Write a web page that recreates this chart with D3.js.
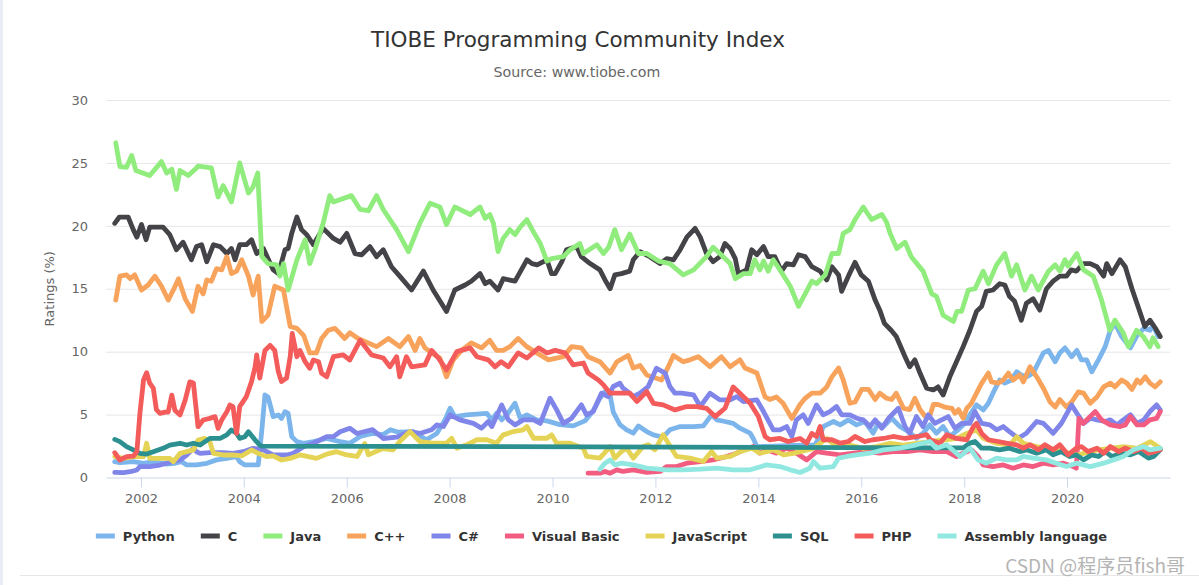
<!DOCTYPE html>
<html>
<head>
<meta charset="utf-8">
<script src="https://cdn.jsdelivr.net/npm/d3@7"></script>
<style>
  html, body { margin: 0; padding: 0; background: #fff; }
  svg { display: block; }
</style>
</head>
<body>
<svg id="chart" width="1199" height="585"></svg>
<script>
// ---------------- DATA (decimal year, rating %) ----------------
const seriesNames = ["Python", "C", "Java", "C++", "C#", "Visual Basic", "JavaScript", "SQL", "PHP", "Assembly language"];
const seriesColors = ["#7cb5ec", "#434348", "#90ed7d", "#f7a35c", "#8085e9", "#f15c80", "#e4d354", "#2b908f", "#f45b5b", "#91e8e1"];
const yTicks = [0, 5, 10, 15, 20, 25, 30];
const xTickYears = [2002, 2004, 2006, 2008, 2010, 2012, 2014, 2016, 2018, 2020];

const python = [[2001.49,1.26],[2001.59,1.18],[2001.85,1.26],[2002.05,1.13],[2002.24,1.26],[2002.5,1.07],[2002.66,1.13],[2002.79,1.26],[2002.89,1.0],[2003.08,1.0],[2003.28,1.13],[2003.47,1.4],[2003.67,1.52],[2003.86,1.66],[2003.92,1.26],[2004.02,1.0],[2004.18,1.0],[2004.28,1.0],[2004.35,3.78],[2004.41,6.56],[2004.47,6.4],[2004.57,4.84],[2004.67,4.97],[2004.73,4.7],[2004.8,5.23],[2004.86,5.1],[2004.93,3.25],[2005.03,2.85],[2005.16,2.72],[2005.35,2.85],[2005.61,3.1],[2005.87,2.85],[2006.06,2.72],[2006.26,3.26],[2006.5,3.5],[2006.7,3.4],[2006.85,3.8],[2007.0,3.6],[2007.29,3.65],[2007.55,3.0],[2007.75,3.5],[2007.91,4.58],[2008.01,5.5],[2008.1,4.84],[2008.33,4.98],[2008.72,5.1],[2008.82,4.58],[2008.91,5.1],[2009.01,4.58],[2009.11,4.98],[2009.27,5.9],[2009.37,4.71],[2009.5,4.98],[2009.69,4.58],[2009.89,4.5],[2010.14,4.2],[2010.4,4.1],[2010.63,4.5],[2010.79,5.3],[2010.92,6.3],[2011.02,6.83],[2011.12,6.5],[2011.18,5.2],[2011.31,4.2],[2011.44,3.79],[2011.57,3.52],[2011.67,4.1],[2011.83,3.65],[2011.96,3.39],[2012.15,3.2],[2012.28,3.79],[2012.48,4.05],[2012.74,4.05],[2012.93,4.1],[2013.09,4.98],[2013.19,4.58],[2013.35,4.45],[2013.51,4.3],[2013.64,3.92],[2013.84,3.52],[2013.9,3.1],[2013.97,2.46],[2014.3,2.5],[2014.7,2.55],[2015.1,2.6],[2015.2,3.3],[2015.26,4.05],[2015.46,4.45],[2015.59,4.18],[2015.75,4.58],[2015.91,4.18],[2016.07,4.45],[2016.23,3.52],[2016.33,4.3],[2016.43,4.05],[2016.59,4.71],[2016.75,4.05],[2016.91,3.65],[2017.07,3.12],[2017.2,3.52],[2017.33,4.18],[2017.46,3.52],[2017.59,4.05],[2017.72,3.26],[2017.88,3.79],[2018.01,4.3],[2018.11,4.98],[2018.24,5.77],[2018.37,5.37],[2018.47,5.9],[2018.56,6.7],[2018.69,7.75],[2018.79,7.5],[2018.92,7.75],[2019.02,8.4],[2019.11,8.15],[2019.21,8.0],[2019.34,8.3],[2019.44,9.1],[2019.54,9.9],[2019.64,10.1],[2019.77,9.2],[2019.86,9.9],[2019.96,10.3],[2020.09,9.6],[2020.19,10.1],[2020.28,9.35],[2020.38,9.35],[2020.48,8.4],[2020.61,9.35],[2020.74,10.4],[2020.84,11.7],[2020.93,12.25],[2021.06,11.2],[2021.23,10.3],[2021.36,11.3],[2021.49,11.85],[2021.61,11.7],[2021.67,12.1],[2021.77,11.2]];

const cLang = [[2001.49,20.2],[2001.58,20.7],[2001.75,20.7],[2001.85,19.7],[2001.92,19.1],[2002.01,20.1],[2002.1,18.9],[2002.17,19.9],[2002.43,19.9],[2002.56,19.3],[2002.69,18.1],[2002.82,18.7],[2002.98,17.3],[2003.08,18.35],[2003.18,18.5],[2003.28,17.15],[2003.41,18.5],[2003.54,18.35],[2003.67,17.8],[2003.76,18.2],[2003.83,17.3],[2003.92,18.5],[2004.05,18.5],[2004.15,18.9],[2004.25,17.8],[2004.38,18.2],[2004.57,16.5],[2004.67,16.2],[2004.8,18.1],[2004.86,18.2],[2004.93,19.4],[2005.03,20.7],[2005.12,19.7],[2005.22,19.3],[2005.35,18.5],[2005.54,19.8],[2005.74,19.0],[2005.87,18.7],[2006.0,19.4],[2006.16,17.8],[2006.29,17.7],[2006.45,18.35],[2006.58,17.55],[2006.71,18.1],[2006.87,16.75],[2007.03,16.0],[2007.26,14.9],[2007.49,16.4],[2007.68,14.9],[2007.94,13.2],[2008.1,14.9],[2008.3,15.3],[2008.42,15.6],[2008.59,16.2],[2008.69,15.4],[2008.78,15.6],[2008.94,14.9],[2009.04,15.8],[2009.27,15.6],[2009.5,17.3],[2009.6,17.0],[2009.7,16.9],[2009.89,17.3],[2009.98,16.2],[2010.05,16.2],[2010.18,17.15],[2010.27,18.1],[2010.47,18.35],[2010.56,17.55],[2010.73,17.0],[2010.92,16.5],[2011.02,15.7],[2011.12,15.0],[2011.21,16.1],[2011.34,16.2],[2011.5,16.4],[2011.57,17.3],[2011.7,17.95],[2011.89,17.55],[2012.09,17.0],[2012.22,17.4],[2012.35,17.3],[2012.48,18.1],[2012.61,19.1],[2012.77,19.8],[2012.87,19.1],[2012.99,17.8],[2013.12,17.15],[2013.25,17.55],[2013.35,18.6],[2013.45,18.2],[2013.55,17.4],[2013.61,16.2],[2013.77,16.5],[2013.87,18.1],[2013.97,17.7],[2014.1,18.35],[2014.19,17.55],[2014.32,17.55],[2014.45,16.4],[2014.55,17.0],[2014.68,16.9],[2014.78,17.7],[2014.91,17.55],[2015.04,16.75],[2015.2,16.4],[2015.33,15.7],[2015.43,16.75],[2015.56,16.1],[2015.62,14.8],[2015.75,16.0],[2015.88,17.1],[2016.0,16.1],[2016.14,15.6],[2016.27,14.1],[2016.36,13.3],[2016.45,12.25],[2016.58,11.7],[2016.68,11.2],[2016.85,9.6],[2016.94,8.8],[2017.04,9.35],[2017.14,8.3],[2017.27,7.1],[2017.4,6.96],[2017.49,7.2],[2017.59,6.55],[2017.72,8.0],[2017.85,9.2],[2017.98,10.4],[2018.11,11.7],[2018.24,13.2],[2018.34,13.6],[2018.43,14.8],[2018.56,14.9],[2018.69,15.4],[2018.79,15.3],[2018.88,14.4],[2018.98,14.0],[2019.11,12.5],[2019.21,13.85],[2019.34,14.2],[2019.47,13.3],[2019.6,15.0],[2019.73,15.6],[2019.86,16.0],[2019.99,16.0],[2020.08,16.5],[2020.18,16.4],[2020.32,17.0],[2020.45,17.0],[2020.58,16.75],[2020.71,16.0],[2020.77,17.0],[2020.87,16.2],[2021.03,17.3],[2021.13,16.75],[2021.26,15.0],[2021.39,13.45],[2021.51,12.0],[2021.61,12.5],[2021.71,11.9],[2021.81,11.2]];

const java = [[2001.51,26.6],[2001.59,24.7],[2001.72,24.65],[2001.82,25.6],[2001.9,24.4],[2002.17,24.0],[2002.4,25.1],[2002.5,24.2],[2002.6,24.5],[2002.69,22.9],[2002.76,24.4],[2002.92,24.0],[2003.08,24.6],[2003.11,24.75],[2003.37,24.6],[2003.5,22.3],[2003.6,23.2],[2003.76,21.9],[2003.92,25.0],[2004.09,22.6],[2004.18,23.1],[2004.27,24.2],[2004.35,17.55],[2004.47,17.0],[2004.64,16.9],[2004.7,16.0],[2004.77,17.0],[2004.86,14.9],[2005.03,17.3],[2005.19,18.9],[2005.28,17.0],[2005.38,18.1],[2005.54,20.2],[2005.67,22.4],[2005.74,21.9],[2006.09,22.4],[2006.26,21.3],[2006.42,21.2],[2006.58,22.4],[2006.71,21.3],[2006.97,19.7],[2007.2,17.95],[2007.42,20.2],[2007.62,21.8],[2007.81,21.5],[2007.94,20.1],[2008.1,21.5],[2008.4,20.9],[2008.59,21.5],[2008.69,20.6],[2008.78,20.9],[2008.85,20.2],[2008.94,17.95],[2009.04,19.0],[2009.17,19.7],[2009.27,19.3],[2009.37,19.9],[2009.5,20.5],[2009.63,19.5],[2009.76,18.6],[2009.89,17.2],[2009.98,17.4],[2010.21,17.55],[2010.34,18.1],[2010.53,18.6],[2010.6,17.8],[2010.86,18.5],[2010.99,17.8],[2011.09,18.3],[2011.21,19.7],[2011.34,18.1],[2011.5,19.35],[2011.67,17.8],[2011.83,17.8],[2012.06,17.2],[2012.28,17.0],[2012.54,16.1],[2012.74,16.5],[2012.99,17.55],[2013.12,18.3],[2013.25,17.8],[2013.45,17.0],[2013.55,15.8],[2013.71,16.2],[2013.84,16.2],[2013.93,17.3],[2014.03,16.5],[2014.1,17.2],[2014.19,16.4],[2014.29,17.3],[2014.42,16.5],[2014.62,15.2],[2014.78,13.6],[2014.91,14.6],[2015.04,15.6],[2015.13,15.4],[2015.3,16.1],[2015.43,17.8],[2015.56,17.8],[2015.65,19.4],[2015.78,19.7],[2015.88,20.5],[2016.04,21.5],[2016.2,20.5],[2016.4,20.9],[2016.49,20.3],[2016.56,19.4],[2016.69,18.2],[2016.85,18.7],[2016.97,17.55],[2017.2,16.4],[2017.37,14.6],[2017.46,14.4],[2017.59,12.9],[2017.79,12.4],[2017.86,13.2],[2017.95,13.2],[2018.08,14.9],[2018.21,15.0],[2018.37,16.4],[2018.47,15.4],[2018.63,16.9],[2018.79,17.8],[2018.92,16.0],[2019.02,16.9],[2019.18,14.9],[2019.31,16.0],[2019.44,14.9],[2019.64,16.4],[2019.77,16.9],[2019.86,16.4],[2019.96,17.3],[2020.02,16.8],[2020.19,17.8],[2020.32,16.5],[2020.51,16.0],[2020.67,14.1],[2020.83,11.7],[2020.93,12.5],[2021.09,11.5],[2021.19,10.4],[2021.35,11.7],[2021.48,11.2],[2021.61,10.4],[2021.67,11.1],[2021.77,10.4]];

const cpp = [[2001.51,14.1],[2001.59,16.0],[2001.72,16.1],[2001.79,15.8],[2001.88,16.1],[2002.01,14.9],[2002.14,15.3],[2002.27,16.0],[2002.4,15.2],[2002.53,14.1],[2002.63,14.9],[2002.73,15.8],[2002.86,14.2],[2003.0,13.2],[2003.11,15.2],[2003.21,14.6],[2003.28,15.7],[2003.37,15.6],[2003.47,16.6],[2003.57,16.5],[2003.67,17.55],[2003.76,16.2],[2003.86,16.4],[2003.96,17.3],[2004.09,16.0],[2004.18,14.5],[2004.28,16.0],[2004.35,12.4],[2004.47,12.9],[2004.6,15.2],[2004.77,14.9],[2004.9,12.0],[2005.03,11.85],[2005.16,11.3],[2005.28,9.9],[2005.41,9.9],[2005.51,11.05],[2005.64,11.7],[2005.77,11.85],[2005.96,11.05],[2006.06,11.5],[2006.22,11.05],[2006.58,10.4],[2006.81,11.05],[2007.03,10.4],[2007.2,11.2],[2007.33,10.1],[2007.42,11.05],[2007.52,10.3],[2007.65,9.9],[2007.81,9.5],[2007.94,8.0],[2008.07,9.35],[2008.23,10.1],[2008.42,10.7],[2008.62,10.3],[2008.78,10.9],[2008.91,10.1],[2009.04,10.1],[2009.17,10.4],[2009.33,11.05],[2009.5,10.4],[2009.69,9.9],[2009.92,9.35],[2010.21,9.6],[2010.37,10.4],[2010.56,10.3],[2010.69,9.6],[2010.92,9.2],[2011.12,8.3],[2011.25,9.2],[2011.47,9.7],[2011.57,8.7],[2011.7,8.9],[2011.83,8.15],[2012.12,7.75],[2012.22,8.55],[2012.35,9.7],[2012.54,9.2],[2012.67,9.35],[2012.83,9.6],[2013.06,8.8],[2013.28,9.6],[2013.45,8.8],[2013.64,9.35],[2013.74,8.7],[2013.97,8.3],[2014.13,6.4],[2014.22,6.2],[2014.35,6.4],[2014.48,5.9],[2014.65,4.7],[2014.81,5.8],[2014.91,6.3],[2015.04,6.7],[2015.2,6.7],[2015.33,7.2],[2015.43,8.0],[2015.56,8.7],[2015.65,7.75],[2015.78,5.9],[2015.88,6.0],[2016.01,7.0],[2016.14,7.0],[2016.27,6.2],[2016.36,6.7],[2016.49,6.3],[2016.59,6.2],[2016.68,6.7],[2016.82,5.5],[2016.94,5.4],[2017.04,6.3],[2017.14,5.4],[2017.27,4.7],[2017.34,5.0],[2017.4,5.8],[2017.49,5.8],[2017.62,5.6],[2017.76,5.5],[2017.82,5.1],[2017.89,5.4],[2017.98,4.7],[2018.05,5.5],[2018.14,5.9],[2018.24,6.7],[2018.34,7.5],[2018.47,8.3],[2018.53,7.6],[2018.66,7.5],[2018.76,7.75],[2018.86,8.3],[2018.95,7.75],[2019.08,8.15],[2019.15,7.6],[2019.28,8.8],[2019.41,8.0],[2019.54,7.1],[2019.67,6.0],[2019.77,5.6],[2019.86,6.2],[2019.99,5.6],[2020.09,6.0],[2020.22,6.8],[2020.32,6.7],[2020.45,5.9],[2020.58,6.4],[2020.71,7.2],[2020.84,7.5],[2020.93,7.2],[2021.06,7.75],[2021.16,7.5],[2021.26,7.0],[2021.36,7.75],[2021.42,7.5],[2021.52,8.0],[2021.61,7.5],[2021.71,7.2],[2021.81,7.6]];

const csharp = [[2001.49,0.41],[2001.66,0.38],[2001.79,0.46],[2001.92,0.6],[2001.98,0.86],[2002.17,0.86],[2002.37,0.99],[2002.5,1.13],[2002.76,1.39],[2002.89,1.79],[2003.02,2.32],[2003.08,2.05],[2003.15,1.92],[2003.34,1.97],[2003.6,1.97],[2003.79,1.92],[2003.99,2.05],[2004.18,2.32],[2004.38,2.19],[2004.57,1.79],[2004.83,1.79],[2004.96,1.92],[2005.16,2.45],[2005.35,2.72],[2005.48,2.98],[2005.61,3.25],[2005.74,3.25],[2005.87,3.64],[2006.06,3.91],[2006.2,3.5],[2006.5,3.8],[2006.71,3.1],[2006.97,3.2],[2007.23,3.65],[2007.42,3.5],[2007.65,3.79],[2007.75,4.18],[2007.88,4.05],[2008.01,4.98],[2008.2,4.58],[2008.46,4.3],[2008.62,3.92],[2008.75,4.45],[2008.82,4.05],[2009.01,5.77],[2009.14,4.58],[2009.27,4.18],[2009.43,4.58],[2009.63,4.58],[2009.76,4.3],[2009.95,6.3],[2010.08,5.37],[2010.21,4.3],[2010.37,4.71],[2010.56,5.77],[2010.66,4.98],[2010.79,5.24],[2010.95,6.7],[2011.08,6.43],[2011.18,7.23],[2011.31,7.49],[2011.37,7.1],[2011.5,6.7],[2011.57,6.43],[2011.7,6.7],[2011.86,7.23],[2012.02,8.68],[2012.19,8.29],[2012.28,7.23],[2012.38,6.7],[2012.51,6.7],[2012.74,6.57],[2012.87,5.64],[2013.06,6.7],[2013.25,6.17],[2013.45,6.17],[2013.58,6.43],[2013.71,6.04],[2013.97,6.17],[2014.1,5.24],[2014.29,3.79],[2014.42,3.79],[2014.55,4.05],[2014.65,3.26],[2014.74,4.58],[2014.87,4.98],[2014.97,4.3],[2015.13,5.77],[2015.26,4.98],[2015.39,5.24],[2015.52,5.64],[2015.62,4.98],[2015.78,4.98],[2015.91,4.71],[2016.04,4.58],[2016.17,4.05],[2016.27,4.58],[2016.4,3.92],[2016.53,4.71],[2016.72,5.5],[2016.85,4.05],[2016.94,3.52],[2017.07,4.84],[2017.2,4.05],[2017.3,4.98],[2017.43,4.3],[2017.56,4.58],[2017.69,4.84],[2017.82,3.92],[2017.95,4.3],[2018.11,4.3],[2018.21,5.24],[2018.34,4.3],[2018.5,4.18],[2018.63,3.79],[2018.76,4.05],[2018.88,3.65],[2019.05,3.12],[2019.21,3.52],[2019.41,4.45],[2019.54,4.3],[2019.73,3.52],[2019.89,4.3],[2020.09,5.77],[2020.19,5.11],[2020.32,4.3],[2020.45,4.71],[2020.58,4.58],[2020.74,4.45],[2020.84,4.58],[2020.97,4.18],[2021.09,4.58],[2021.23,4.98],[2021.36,4.3],[2021.49,4.58],[2021.61,5.24],[2021.74,5.77],[2021.81,5.37]];

const visualBasic = [[2010.69,0.34],[2010.92,0.34],[2011.02,0.48],[2011.12,0.34],[2011.25,0.61],[2011.37,0.48],[2011.57,0.61],[2011.83,0.4],[2012.09,0.48],[2012.22,0.87],[2012.41,0.87],[2012.61,1.14],[2012.87,1.27],[2013.12,1.4],[2013.38,1.67],[2013.58,1.93],[2013.71,2.2],[2013.9,2.46],[2014.03,1.93],[2014.16,2.2],[2014.35,1.93],[2014.55,2.33],[2014.74,1.93],[2014.94,1.4],[2015.13,2.06],[2015.33,1.93],[2015.59,1.8],[2015.85,1.93],[2016.1,2.06],[2016.36,1.93],[2016.62,2.06],[2016.88,2.06],[2017.14,2.2],[2017.4,2.06],[2017.66,2.06],[2017.85,1.67],[2017.98,1.93],[2018.14,2.2],[2018.27,1.67],[2018.37,1.0],[2018.56,0.87],[2018.76,1.0],[2018.95,0.74],[2019.15,1.0],[2019.34,0.87],[2019.54,1.14],[2019.73,1.0],[2019.93,1.14],[2020.12,0.87],[2020.18,0.74],[2020.23,4.7],[2020.31,4.3],[2020.45,4.84],[2020.55,5.24],[2020.67,4.58],[2020.84,4.18],[2021.03,4.05],[2021.13,4.18],[2021.23,4.84],[2021.36,4.18],[2021.49,4.18],[2021.61,4.58],[2021.74,4.7],[2021.81,5.24]];

const javascript = [[2001.49,1.66],[2001.66,1.52],[2001.85,1.66],[2002.05,1.66],[2002.11,2.72],[2002.17,1.52],[2002.37,1.52],[2002.56,1.52],[2002.63,1.26],[2002.76,1.92],[2002.89,2.05],[2003.02,2.19],[2003.11,2.98],[2003.24,3.11],[2003.34,2.85],[2003.41,1.92],[2003.6,1.79],[2003.79,1.79],[2003.96,1.72],[2004.15,2.19],[2004.28,1.92],[2004.44,1.66],[2004.57,1.72],[2004.73,1.39],[2004.9,1.52],[2005.09,1.79],[2005.25,1.66],[2005.41,1.52],[2005.61,1.86],[2005.8,2.05],[2006.0,1.79],[2006.2,1.67],[2006.35,2.7],[2006.42,1.8],[2006.7,2.3],[2006.9,2.2],[2007.03,2.86],[2007.23,3.65],[2007.42,2.86],[2007.68,2.73],[2007.94,2.73],[2008.04,3.12],[2008.14,2.33],[2008.33,2.6],[2008.53,3.0],[2008.72,3.0],[2008.91,2.73],[2009.04,3.39],[2009.24,3.65],[2009.43,3.79],[2009.5,4.05],[2009.63,3.12],[2009.89,3.12],[2009.98,3.39],[2010.08,2.73],[2010.34,2.73],[2010.6,2.33],[2010.66,1.67],[2010.92,1.54],[2011.12,2.46],[2011.21,1.54],[2011.34,2.06],[2011.44,2.33],[2011.57,1.54],[2011.76,2.46],[2011.86,2.6],[2011.99,2.2],[2012.15,3.39],[2012.25,2.73],[2012.41,1.67],[2012.67,1.54],[2012.93,1.27],[2013.09,2.06],[2013.19,1.54],[2013.45,1.67],[2013.64,2.06],[2013.87,2.33],[2014.03,1.93],[2014.29,2.2],[2014.49,1.79],[2014.68,1.92],[2015.07,2.32],[2015.33,3.11],[2015.52,2.45],[2015.78,2.58],[2016.04,2.32],[2016.3,2.45],[2016.56,2.72],[2016.82,2.58],[2017.07,2.72],[2017.33,2.85],[2017.59,2.98],[2017.85,3.11],[2018.05,3.5],[2018.24,3.77],[2018.37,3.11],[2018.63,2.72],[2018.89,2.58],[2019.02,3.24],[2019.15,2.72],[2019.41,2.45],[2019.67,2.32],[2019.93,2.05],[2020.19,1.79],[2020.58,2.18],[2020.84,2.32],[2021.1,2.45],[2021.36,2.32],[2021.62,2.85],[2021.81,2.32]];

const sql = [[2001.49,3.03],[2001.59,2.85],[2001.72,2.45],[2001.85,2.19],[2001.98,1.92],[2002.11,1.86],[2002.24,2.05],[2002.43,2.32],[2002.56,2.58],[2002.76,2.72],[2002.89,2.58],[2003.02,2.72],[2003.15,2.58],[2003.34,3.11],[2003.54,3.11],[2003.67,3.38],[2003.76,3.78],[2003.86,3.51],[2003.92,3.11],[2004.02,3.24],[2004.09,3.64],[2004.22,2.98],[2004.31,2.58],[2004.35,2.5],[2017.98,2.35],[2018.11,2.73],[2018.21,2.86],[2018.34,2.33],[2018.5,2.33],[2018.69,2.2],[2018.88,2.33],[2019.08,2.06],[2019.21,2.2],[2019.41,1.93],[2019.6,2.2],[2019.73,1.8],[2019.89,2.06],[2020.05,1.67],[2020.18,1.8],[2020.32,1.4],[2020.48,1.8],[2020.61,1.67],[2020.74,2.06],[2020.87,1.67],[2021.06,1.93],[2021.23,1.8],[2021.39,2.06],[2021.58,1.54],[2021.68,1.67],[2021.81,2.2]];

const php = [[2001.49,1.97],[2001.59,1.39],[2001.72,1.66],[2001.85,1.7],[2001.92,2.05],[2001.98,5.1],[2002.05,7.75],[2002.11,8.33],[2002.17,7.5],[2002.24,7.1],[2002.3,5.4],[2002.37,5.1],[2002.47,5.2],[2002.53,5.2],[2002.6,6.55],[2002.66,5.35],[2002.76,4.97],[2002.86,6.15],[2002.95,7.6],[2003.02,7.5],[2003.11,4.04],[2003.21,4.57],[2003.34,4.7],[2003.44,4.84],[2003.5,3.9],[2003.57,4.57],[2003.67,5.23],[2003.73,5.76],[2003.79,5.63],[2003.86,3.5],[2003.92,5.63],[2004.05,6.43],[2004.15,7.62],[2004.22,8.8],[2004.25,9.74],[2004.31,7.9],[2004.41,10.1],[2004.51,10.5],[2004.6,10.1],[2004.67,8.4],[2004.73,7.62],[2004.83,7.9],[2004.9,9.6],[2004.94,11.45],[2005.03,9.6],[2005.09,10.1],[2005.19,9.2],[2005.28,8.68],[2005.35,9.34],[2005.45,9.2],[2005.51,8.28],[2005.61,8.0],[2005.74,9.6],[2005.93,9.74],[2006.06,9.34],[2006.26,10.9],[2006.48,9.75],[2006.71,9.5],[2006.84,8.8],[2006.97,9.6],[2007.03,8.0],[2007.16,9.6],[2007.26,8.8],[2007.52,8.95],[2007.65,10.1],[2007.78,9.5],[2007.94,8.55],[2008.14,10.0],[2008.4,10.3],[2008.53,9.6],[2008.75,9.35],[2008.88,8.8],[2009.0,9.2],[2009.14,8.8],[2009.33,9.9],[2009.5,9.5],[2009.73,10.3],[2009.89,9.9],[2010.05,10.1],[2010.24,9.9],[2010.4,8.95],[2010.6,9.1],[2010.69,8.3],[2010.89,7.75],[2010.99,7.36],[2011.12,6.7],[2011.31,6.7],[2011.5,6.7],[2011.64,6.04],[2011.83,6.83],[2011.96,5.9],[2012.15,5.77],[2012.38,5.37],[2012.61,5.64],[2012.8,5.64],[2012.99,5.5],[2013.16,4.84],[2013.35,5.5],[2013.51,7.2],[2013.64,6.7],[2013.84,5.9],[2014.0,4.84],[2014.13,3.26],[2014.22,3.0],[2014.42,3.1],[2014.58,2.86],[2014.81,3.1],[2014.94,2.73],[2015.04,3.5],[2015.13,3.26],[2015.2,4.05],[2015.26,3.0],[2015.43,3.0],[2015.59,2.73],[2015.75,2.86],[2015.88,3.26],[2016.07,2.86],[2016.23,3.0],[2016.43,3.1],[2016.62,3.26],[2016.85,3.1],[2017.1,3.26],[2017.27,3.4],[2017.34,3.0],[2017.53,2.73],[2017.66,3.4],[2017.85,3.1],[2018.05,3.0],[2018.18,4.05],[2018.24,4.3],[2018.34,3.5],[2018.47,3.0],[2018.66,2.86],[2018.82,2.73],[2019.02,2.6],[2019.15,2.33],[2019.28,2.6],[2019.44,2.2],[2019.57,2.6],[2019.73,2.2],[2019.86,2.6],[2020.02,1.8],[2020.18,2.33],[2020.28,2.46],[2020.41,2.06],[2020.58,2.33],[2020.71,1.93],[2020.84,2.46],[2021.0,2.06],[2021.13,2.33],[2021.29,2.06],[2021.45,2.33],[2021.58,1.93],[2021.71,2.06],[2021.81,2.2]];

const assembly = [[2010.92,0.66],[2011.02,1.14],[2011.12,1.4],[2011.21,1.0],[2011.34,1.14],[2011.57,1.0],[2011.83,0.74],[2012.22,0.61],[2012.54,0.61],[2012.87,0.66],[2013.19,0.74],[2013.51,0.61],[2013.84,0.61],[2014.16,1.0],[2014.42,0.87],[2014.62,0.61],[2014.81,0.4],[2015.0,0.74],[2015.07,1.27],[2015.2,0.74],[2015.46,0.87],[2015.56,1.54],[2015.72,1.67],[2015.91,1.8],[2016.17,1.93],[2016.43,2.2],[2016.75,2.33],[2017.07,2.6],[2017.33,2.86],[2017.46,2.33],[2017.66,2.6],[2017.92,1.67],[2018.11,2.33],[2018.27,1.4],[2018.43,1.14],[2018.63,1.54],[2018.82,1.4],[2019.02,1.4],[2019.15,1.67],[2019.34,1.54],[2019.6,1.4],[2019.79,1.14],[2019.99,0.87],[2020.18,1.14],[2020.45,0.87],[2020.71,1.14],[2020.9,1.4],[2021.09,1.67],[2021.29,2.2],[2021.49,2.46],[2021.61,2.2],[2021.81,2.33]];

const seriesData = [python, cLang, java, cpp, csharp, visualBasic, javascript, sql, php, assembly];

// ---------------- CHART ----------------
const W = 1199, H = 585;
const plot = { left: 106, right: 1170, top: 100, bottom: 477.5 };
const FONT = "'DejaVu Sans', 'Lucida Grande', sans-serif";

function yearToDate(y) {
  const yr = Math.floor(y);
  const start = Date.UTC(yr, 0, 1), end = Date.UTC(yr + 1, 0, 1);
  return new Date(start + (y - yr) * (end - start));
}

const svg = d3.select("#chart");

// page decorations
svg.append("rect").attr("x", 0).attr("y", 0).attr("width", W).attr("height", H).attr("fill", "#fff");
svg.append("rect").attr("x", 0).attr("y", 0).attr("width", 3).attr("height", H).attr("fill", "#e9eef6");
svg.append("line").attr("x1", 20).attr("x2", W).attr("y1", 575.5).attr("y2", 575.5)
  .attr("stroke", "#e6e6e6").attr("stroke-width", 1);

const x = d3.scaleUtc()
  .domain([yearToDate(2001.32), yearToDate(2022.0)])
  .range([plot.left, plot.right]);
const y = d3.scaleLinear().domain([0, 30]).range([plot.bottom, plot.top]);

// title & subtitle
svg.append("text").attr("x", 578).attr("y", 46.5).attr("text-anchor", "middle")
  .attr("font-family", FONT).attr("font-size", 21.5).attr("fill", "#333333")
  .text("TIOBE Programming Community Index");
svg.append("text").attr("x", 577).attr("y", 77).attr("text-anchor", "middle")
  .attr("font-family", FONT).attr("font-size", 14.2).attr("fill", "#666666")
  .text("Source: www.tiobe.com");

// gridlines + y labels
const yAxis = d3.axisLeft(y).tickValues(yTicks).tickSize(-(plot.right - plot.left)).tickPadding(18);
const gy = svg.append("g").attr("transform", `translate(${plot.left},0)`).call(yAxis);
gy.select(".domain").remove();
gy.selectAll(".tick line").attr("stroke", "#e6e6e6").attr("stroke-width", 1);
gy.selectAll(".tick").filter(d => d === 0).select("line").remove();
gy.selectAll(".tick text").attr("font-family", FONT).attr("font-size", 13).attr("fill", "#666666");

// y-axis title
svg.append("text")
  .attr("transform", `translate(54,${(plot.top + plot.bottom) / 2}) rotate(-90)`)
  .attr("text-anchor", "middle").attr("font-family", FONT).attr("font-size", 13).attr("fill", "#666666")
  .text("Ratings (%)");

// x axis
const xAxis = d3.axisBottom(x)
  .tickValues(xTickYears.map(v => yearToDate(v)))
  .tickFormat(d3.utcFormat("%Y"))
  .tickSize(10).tickSizeOuter(0).tickPadding(6);
const gx = svg.append("g").attr("transform", `translate(0,${plot.bottom})`).call(xAxis);
gx.select(".domain").attr("stroke", "#ccd6eb").attr("stroke-width", 1.2);
gx.selectAll(".tick line").attr("stroke", "#ccd6eb");
gx.selectAll(".tick text").attr("font-family", FONT).attr("font-size", 13).attr("fill", "#666666");

// lines
const line = d3.line()
  .x(d => x(yearToDate(d[0])))
  .y(d => y(d[1]));

const gLines = svg.append("g");
seriesData.forEach((data, i) => {
  gLines.append("path")
    .datum(data)
    .attr("d", line)
    .attr("fill", "none")
    .attr("stroke", seriesColors[i])
    .attr("stroke-width", 4.8)
    .attr("stroke-linejoin", "round")
    .attr("stroke-linecap", "round");
});

// legend
const legend = svg.append("g");
const items = seriesNames.map((name, i) => {
  const g = legend.append("g");
  g.append("line").attr("x1", 0).attr("x2", 19).attr("y1", 0).attr("y2", 0)
    .attr("stroke", seriesColors[i]).attr("stroke-width", 5);
  const t = g.append("text").attr("x", 27).attr("y", 4.7)
    .attr("font-family", FONT).attr("font-size", 13).attr("font-weight", "bold").attr("fill", "#333333")
    .text(name);
  return { g, w: 27 + t.node().getComputedTextLength() };
});
const gap = 26;
const total = d3.sum(items, d => d.w) + gap * (items.length - 1);
let cx = 601.5 - total / 2;
items.forEach(it => {
  it.g.attr("transform", `translate(${cx},536)`);
  cx += it.w + gap;
});

// watermark
svg.append("text").attr("x", 1185).attr("y", 573).attr("text-anchor", "end")
  .attr("font-family", "'Noto Sans CJK SC', 'Noto Sans', sans-serif").attr("font-size", 19)
  .attr("fill", "#b4b4b4")
  .text("CSDN @程序员fish哥");
</script>
</body>
</html>
